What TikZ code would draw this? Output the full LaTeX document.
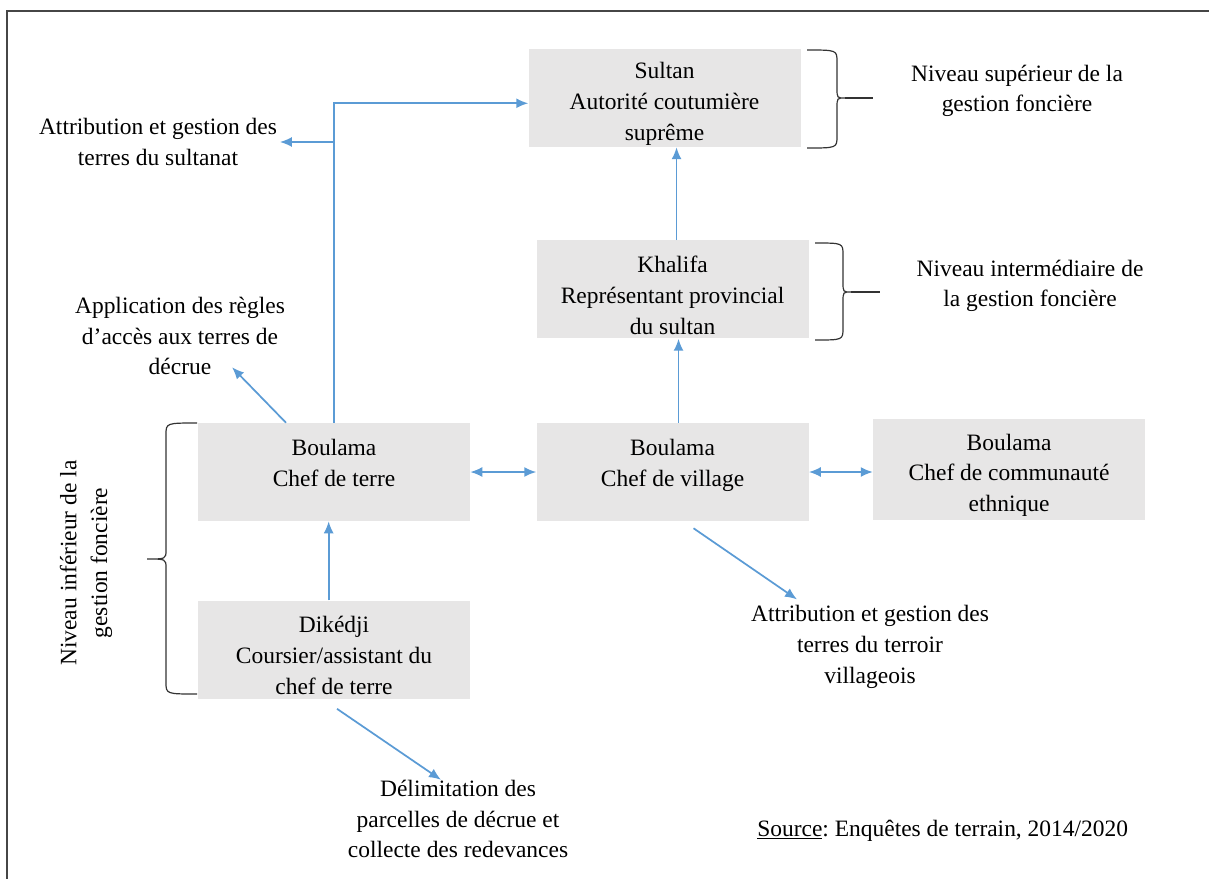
\documentclass[tikz,border=0pt]{standalone}
\usepackage{fontspec}
\setmainfont{Liberation Serif}
\usepackage{xcolor}
\usetikzlibrary{calc, arrows.meta, positioning}
\definecolor{FonciereGray}{RGB}{231, 230, 230}
\definecolor{FonciereBlue}{RGB}{91, 155, 213}
\definecolor{FrameGray}{RGB}{70, 70, 70}
\newcommand{\hautligne}{\rule{0pt}{21pt}}

\begin{document}
\begin{tikzpicture}[
    x=0.75pt, y=-0.75pt,
    node distance=49.5pt and 49.5pt,
    niveau/.style={rectangle, fill=FonciereGray, minimum width=204pt, minimum height=73.5pt, inner sep=0pt, align=center, font=\fontsize{17.6}{23}\selectfont},
    note/.style={inner sep=0pt, align=center, font=\fontsize{17.6}{23}\selectfont},
    arrow/.style={-{Latex[length=9pt, width=7.5pt]}, line width=1.3pt, color=FonciereBlue},
    biarrow/.style={{Latex[length=9pt, width=7.5pt]}-{Latex[length=9pt, width=7.5pt]}, line width=1.3pt, color=FonciereBlue},
    accolade/.style={line width=0.9pt, color=black!80}
  ]
    \useasboundingbox (0,0) rectangle (1209,879);
    \draw[line width=1.5pt, FrameGray] (1209,11) -- (7,11) -- (7,879);

    % boxes
    \node[niveau] (terre) at (334,472) {\hautligne Boulama\\Chef de terre\\\mbox{}};
    \node[niveau, right=49.5pt of terre] (village) {\hautligne Boulama\\Chef de village\\\mbox{}};
    \node[niveau, right=48pt of village, minimum height=76pt, yshift=2pt] (ethnie) {\hautligne Boulama\\Chef de communauté\\ethnique};
    \node[niveau, above=63pt of village] (khalifa) {\hautligne Khalifa\\Représentant provincial\\du sultan};
    \node[niveau, above=69.75pt of khalifa, xshift=-6pt] (sultan) {\hautligne Sultan\\Autorité coutumière\\suprême};
    \node[niveau, below=59.25pt of terre] (dikedji) {\hautligne Dikédji\\Coursier/assistant du\\chef de terre};

    % notes
    \node[note] (sultanat) at (158,142) {Attribution et gestion des\\terres du sultanat};
    \node[note] (appl) at (180,336) {Application des règles\\d’accès aux terres de\\décrue};
    \node[note] (terroir) at (870,647) {Attribution et gestion des\\terres du terroir\\villageois};
    \node[note] (delim) at (458,819) {Délimitation des\\parcelles de décrue et\\collecte des redevances};
    \node[note] (superieur) at (1017,91) {Niveau supérieur de la\\gestion foncière};
    \node[note] (intermediaire) at (1030,286) {Niveau intermédiaire de\\la gestion foncière};
    \node[note, rotate=90] (inferieur) at (86,563) {Niveau inférieur de la\\gestion foncière};
    \node[note, anchor=base west] (source) at (757,836) {\underline{Source}:\ Enquêtes de terrain, 2014/2020};

    % links
    \draw[arrow] ([xshift=3pt]khalifa.north) -- ([xshift=3pt]khalifa.north |- sultan.south);
    \draw[arrow] ([xshift=4.5pt]village.north) -- ([xshift=4.5pt]village.north |- khalifa.south);
    \draw[arrow] ([xshift=-4pt]dikedji.north) -- ([xshift=-4pt]dikedji.north |- terre.south);
    \draw[biarrow] (terre.east) -- (terre.east -| village.west);
    \draw[biarrow] (village.east) -- (village.east -| ethnie.west);
    \draw[arrow] (terre.north) |- ([yshift=-4pt]sultan.west);
    \draw[arrow] (terre.north |- sultanat.east) -- ([xshift=2pt]sultanat.east);
    \draw[arrow] ($(terre.north)+(-48,0)$) -- ($(appl.south)+(52,-8)$);
    \draw[arrow] ($(village.south)+(21,7)$) -- ($(terroir.north)+(-73,-6)$);
    \draw[arrow] ($(dikedji.south)+(3,10)$) -- ($(delim.north)+(-17,0)$);

    % braces
    \draw[accolade] (807,50) .. controls (837,50) .. (837,62) -- (837,88) .. controls (837,98) .. (845,98) .. controls (837,98) .. (837,108) -- (837,136) .. controls (837,148) .. (807,148);
    \draw[accolade] (845,98) -- (873,98);
    \draw[accolade] (815,243) .. controls (843,243) .. (843,255) -- (843,282) .. controls (843,292) .. (851,292) .. controls (843,292) .. (843,302) -- (843,328) .. controls (843,340) .. (815,340);
    \draw[accolade] (851,292) -- (880,292);
    \draw[accolade] (197,423) .. controls (166,423) .. (166,435) -- (166,550) .. controls (166,559) .. (147,559) .. controls (166,559) .. (166,568) -- (166,682) .. controls (166,694) .. (197,694);
\end{tikzpicture}
\end{document}
